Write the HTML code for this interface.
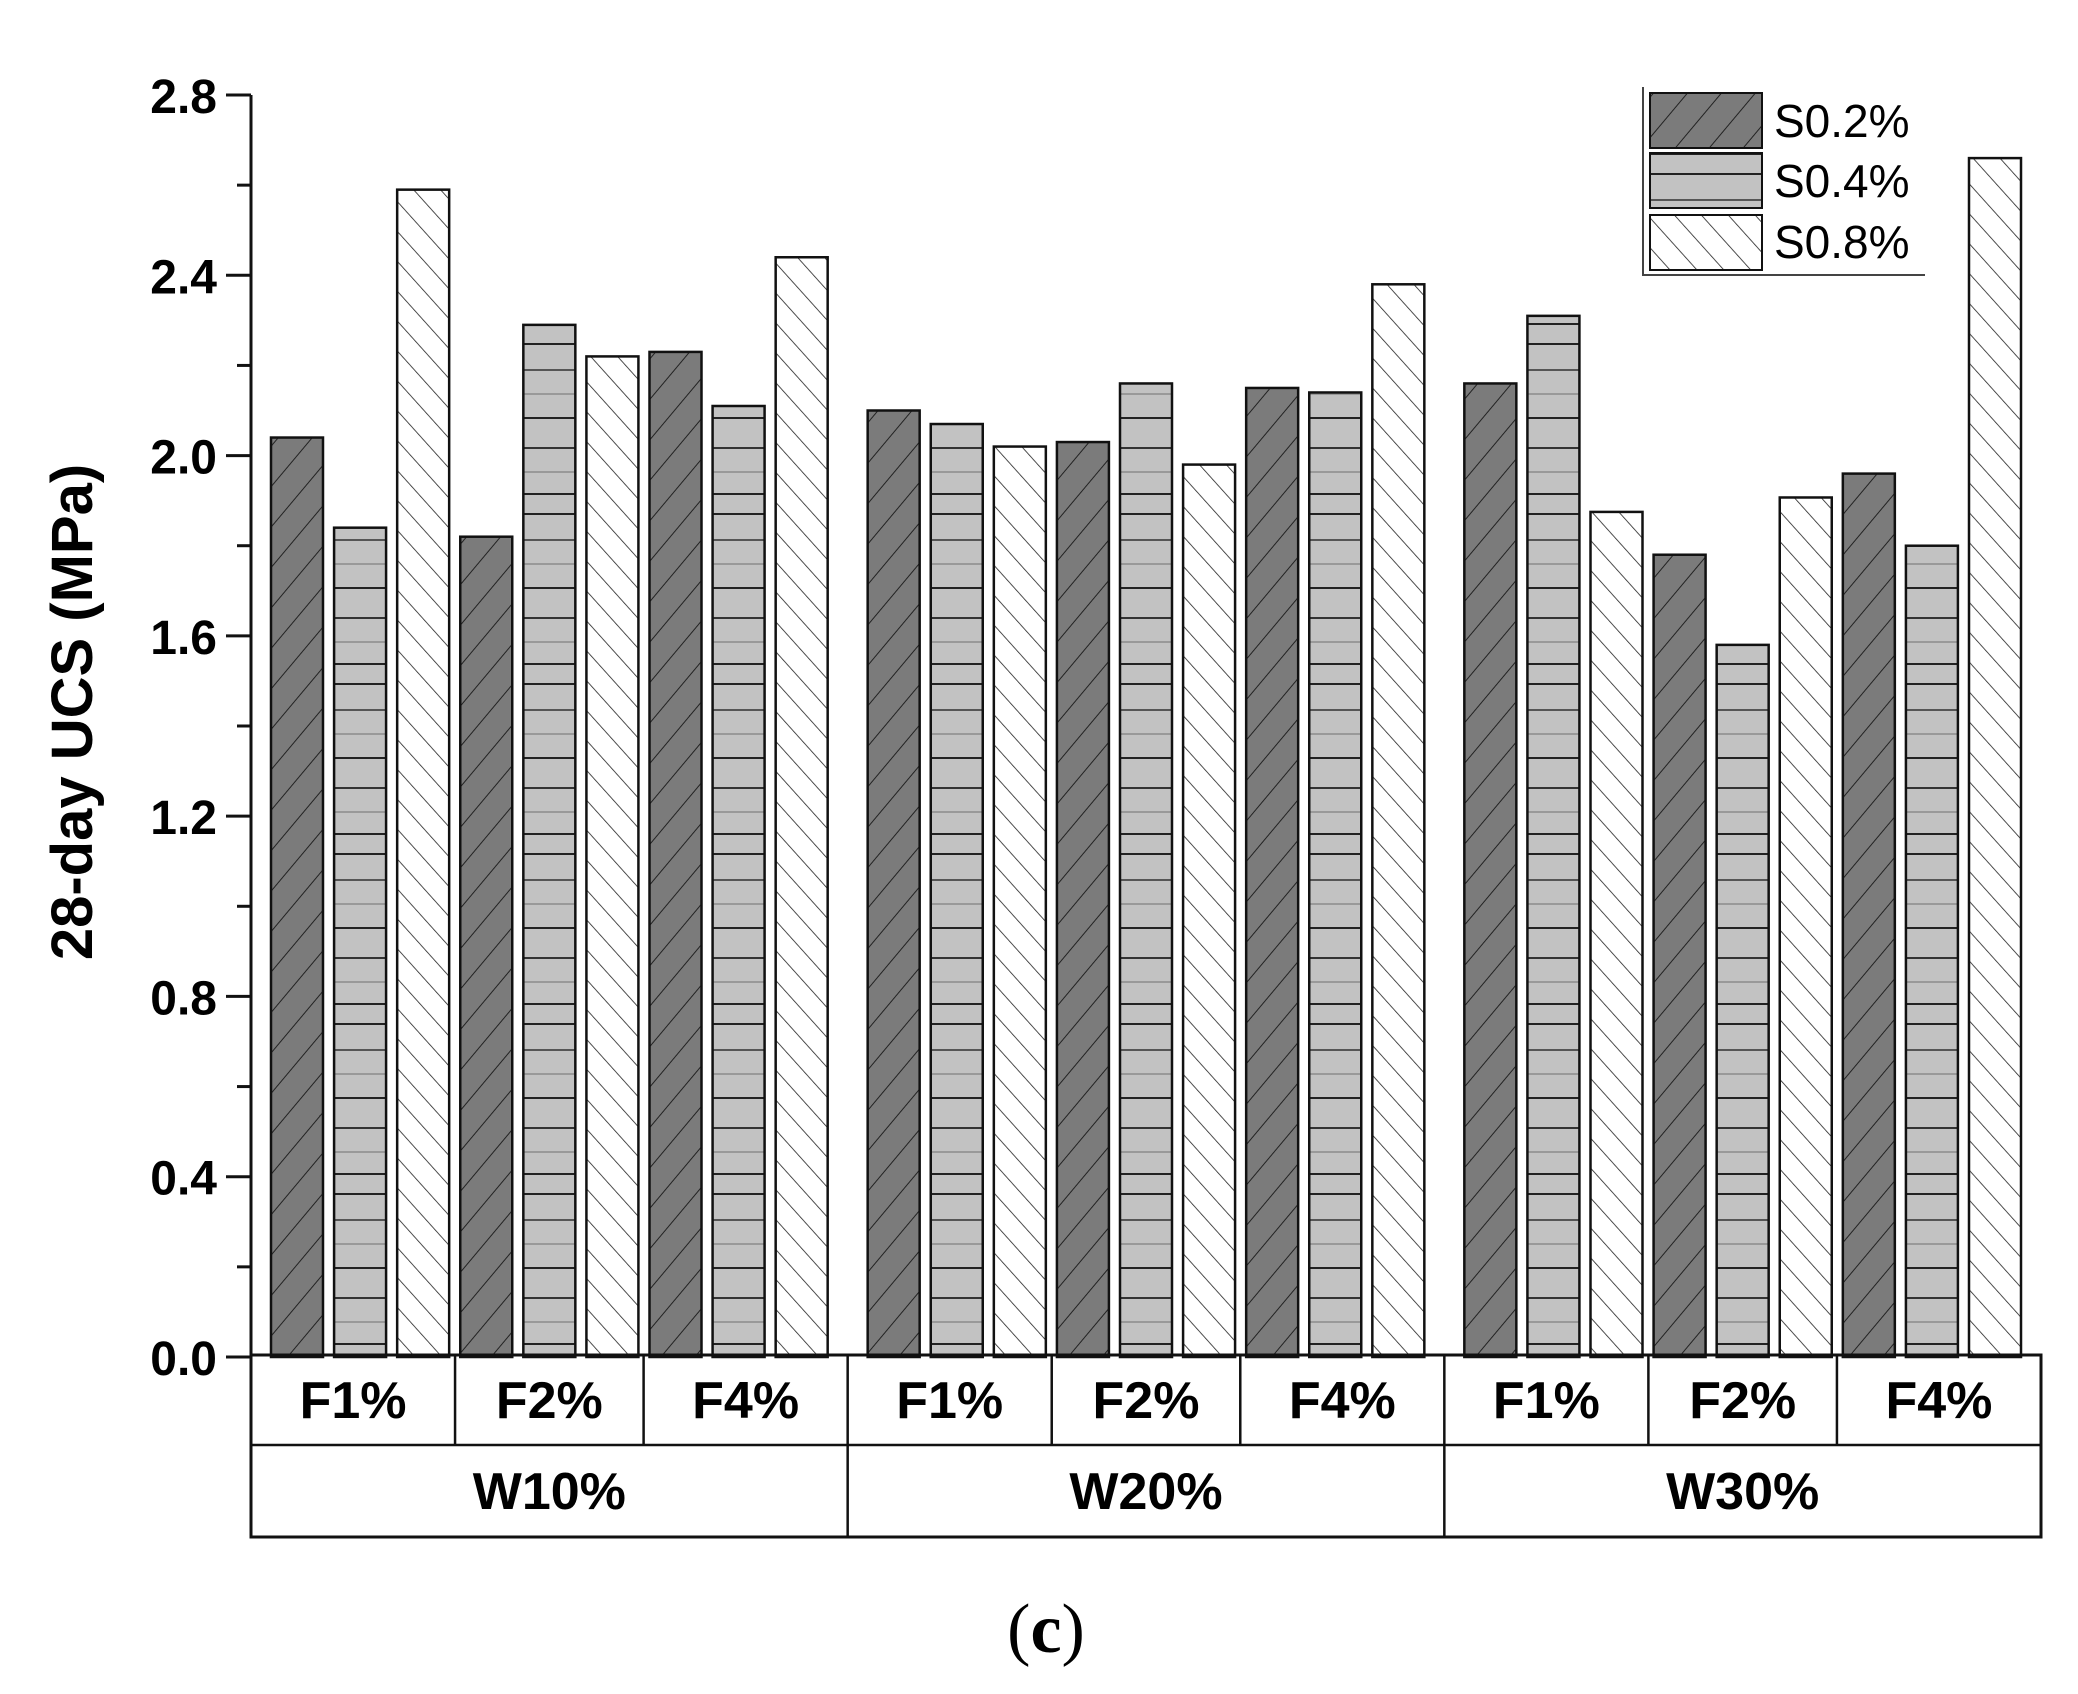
<!DOCTYPE html>
<html><head><meta charset="utf-8"><style>
html,body{margin:0;padding:0;background:#fff;}
svg{display:block;}
</style></head><body>
<svg id="chart" width="2078" height="1694" viewBox="0 0 2078 1694" xmlns="http://www.w3.org/2000/svg">
<defs>
<pattern id="pDark" patternUnits="userSpaceOnUse" width="26" height="26" patternTransform="rotate(40)">
<rect width="26" height="26" fill="#7b7b7b"/><line x1="0" y1="0" x2="0" y2="26" stroke="#222" stroke-width="2"/></pattern>
<pattern id="pGray" patternUnits="userSpaceOnUse" width="60" height="170">
<rect width="60" height="170" fill="#c2c2c2"/>
<line x1="0" y1="4" x2="60" y2="4" stroke="#222" stroke-width="2"/>
<line x1="0" y1="30" x2="60" y2="30" stroke="#555" stroke-width="2"/>
<line x1="0" y1="54" x2="60" y2="54" stroke="#999" stroke-width="2"/>
<line x1="0" y1="78" x2="60" y2="78" stroke="#222" stroke-width="2"/>
<line x1="0" y1="108" x2="60" y2="108" stroke="#333" stroke-width="2"/>
<line x1="0" y1="132" x2="60" y2="132" stroke="#999" stroke-width="2"/>
<line x1="0" y1="154" x2="60" y2="154" stroke="#222" stroke-width="2"/>
</pattern>
<pattern id="pWhite" patternUnits="userSpaceOnUse" width="20" height="20" patternTransform="rotate(-42)">
<rect width="20" height="20" fill="#fff"/><line x1="0" y1="0" x2="0" y2="20" stroke="#222" stroke-width="1.6"/></pattern>
</defs>
<g id="axis"></g>
<g id="bars"></g>
<g id="table"></g>
<text transform="translate(92,712) rotate(-90)" text-anchor="middle" font-family="Liberation Sans, sans-serif" font-weight="bold" font-size="58">28-day UCS (MPa)</text>
<g>
<line x1="1643" y1="87" x2="1643" y2="276" stroke="#444" stroke-width="2"/>
<line x1="1643" y1="275" x2="1925" y2="275" stroke="#444" stroke-width="2"/>
<rect x="1650" y="93" width="112" height="55" fill="url(#pDark)" stroke="#111" stroke-width="2"/>
<rect x="1650" y="153" width="112" height="55" fill="url(#pGray)" stroke="#111" stroke-width="2"/>
<rect x="1650" y="215" width="112" height="55" fill="url(#pWhite)" stroke="#111" stroke-width="2"/>
<text x="1774" y="137" font-family="Liberation Sans, sans-serif" font-size="46">S0.2%</text>
<text x="1774" y="197" font-family="Liberation Sans, sans-serif" font-size="46">S0.4%</text>
<text x="1774" y="258" font-family="Liberation Sans, sans-serif" font-size="46">S0.8%</text>
</g>
<text x="1046" y="1652" text-anchor="middle" font-family="Liberation Serif, serif" font-size="70">(<tspan font-weight="bold">c</tspan>)</text>
</svg>
<script>
const groups = ["W10%","W20%","W30%"];
const fibers = ["F1%","F2%","F4%"];
const series = ["S0.2%","S0.4%","S0.8%"];
const s02 = [2.04,1.82,2.23, 2.10,2.03,2.15, 2.16,1.78,1.96];
const s04 = [1.84,2.29,2.11, 2.07,2.16,2.14, 2.31,1.58,1.80];
const s08 = [2.59,2.22,2.44, 2.02,1.98,2.38, 1.875,1.907,2.66];
const yTicks = ["0.0","0.4","0.8","1.2","1.6","2.0","2.4","2.8"];

const NS="http://www.w3.org/2000/svg";
const X0=251, X1=2041, Y0=1357, YMAX=2.8, YTOP=95;
const y = v => Y0 - v/YMAX*(Y0-YTOP);
const gW=(X1-X0)/3, margin=20, bw=52, period=(gW-2*margin-bw)/8;
function mk(tag, attrs, parent){const e=document.createElementNS(NS,tag);for(const k in attrs)e.setAttribute(k,attrs[k]);parent.appendChild(e);return e;}
const axis=document.getElementById('axis');
let ln=mk('line',{x1:X0,y1:YTOP,x2:X0,y2:Y0,stroke:'#111','stroke-width':3},axis);


for(let i=0;i<=14;i++){
  const v=i*0.2, yy=y(v), major=i%2===0;
  const t=mk('line',{x1:X0-(major?25:14),y1:yy,x2:X0,y2:yy,stroke:'#111','stroke-width':3},axis);
  
  
  if(major){
    const tx=mk('text',{x:X0-34,y:yy+18,'text-anchor':'end','font-family':'Liberation Sans, sans-serif','font-weight':'bold','font-size':48},axis);
    tx.textContent=yTicks[i/2];
    
    
  }
}
const bars=document.getElementById('bars');
const fills=['url(#pDark)','url(#pGray)','url(#pWhite)'];
const data=[s02,s04,s08];
for(let g=0;g<3;g++)for(let f=0;f<3;f++)for(let s=0;s<3;s++){
  const v=data[s][g*3+f];
  const x=X0+g*gW+margin+(f*3+s)*period;
  const r=mk('rect',{x:x,y:y(v),width:bw,height:Y0-y(v),fill:fills[s],stroke:'#111','stroke-width':2.5},bars);
  
  
}
const tb=document.getElementById('table');
const T0=1355,T1=1445,T2=1537;
const fr=mk('rect',{x:X0,y:T0,width:X1-X0,height:T2-T0,fill:'none',stroke:'#111','stroke-width':3},tb);


mk('line',{x1:X0,y1:T1,x2:X1,y2:T1,stroke:'#111','stroke-width':2.5},tb);
const fb=[0,0.342,0.658,1];
for(let g=0;g<3;g++){
  const gx=X0+g*gW;
  if(g>0) mk('line',{x1:gx,y1:T0,x2:gx,y2:T2,stroke:'#111','stroke-width':2.5},tb);
  for(let f=0;f<3;f++){
    if(f>0) mk('line',{x1:gx+fb[f]*gW,y1:T0,x2:gx+fb[f]*gW,y2:T1,stroke:'#111','stroke-width':2.5},tb);
    const t=mk('text',{x:gx+(fb[f]+fb[f+1])/2*gW,y:T0+63,'text-anchor':'middle','font-family':'Liberation Sans, sans-serif','font-weight':'bold','font-size':52},tb);
    t.textContent=fibers[f];
    
    
  }
  const w=mk('text',{x:gx+gW/2,y:T1+64,'text-anchor':'middle','font-family':'Liberation Sans, sans-serif','font-weight':'bold','font-size':52},tb);
  w.textContent=groups[g];
  
  
}
</script>
</body></html>
